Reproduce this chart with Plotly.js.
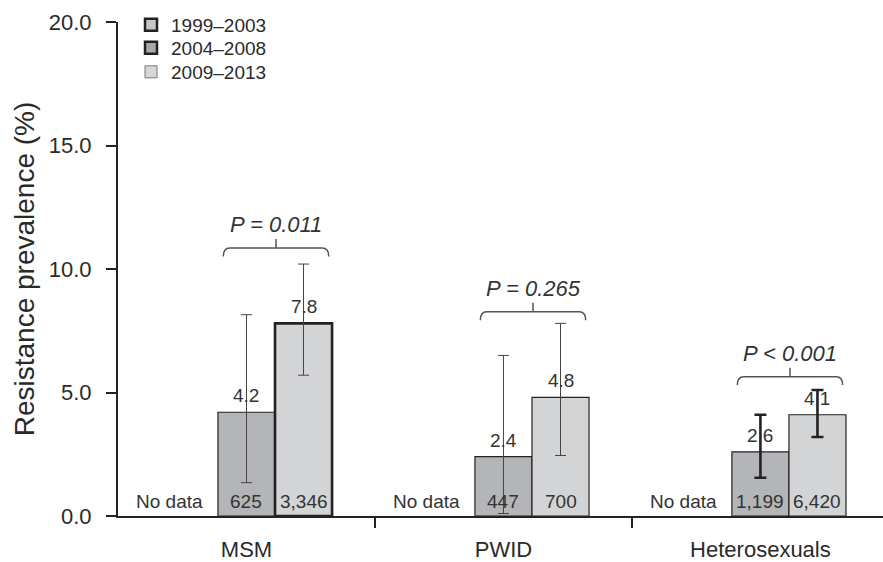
<!DOCTYPE html>
<html><head><meta charset="utf-8">
<script src="https://cdn.plot.ly/plotly-3.0.1.min.js"></script>
<style>html,body{margin:0;padding:0;background:#fff}#chart{width:883px;height:562px}</style>
</head><body><div id="chart"></div>
<script>
// ---- data ----
const categories = ['MSM', 'PWID', 'Heterosexuals'];
const periods = ['1999–2003', '2004–2008', '2009–2013'];
const prev1999 = [null, null, null];
const prev2004 = [4.2, 2.4, 2.6];
const prev2009 = [7.8, 4.8, 4.1];
const ciLow2004 = [1.35, 0.1, 1.55];
const ciHigh2004 = [8.15, 6.5, 4.1];
const ciLow2009 = [5.7, 2.45, 3.2];
const ciHigh2009 = [10.2, 7.8, 5.1];
const n2004 = ['625', '447', '1,199'];
const n2009 = ['3,346', '700', '6,420'];
const noDataLabel = 'No data';
const pLabels = ['P = 0.011', 'P = 0.265', 'P < 0.001'];
const bracketY = [10.85, 8.27, 5.64];
const yTickVals = [0, 5, 10, 15, 20];

// ---- style ----
const FONT = 'Liberation Sans, Arial, Helvetica, sans-serif';
const TXT = '#2a2a2a';
const BW = 0.222;
const offs = [-BW, 0, BW];
const fills = ['#c5c5c7', '#b4b5b8', '#d3d4d6'];
const legendFills = ['#c6c6c8', '#a9a9ac', '#d7d7d9'];
const legendLineW = [2.5, 2.5, 1];
const legendLineC = ['#222', '#222', '#777'];
const legendIds = ['legend', 'legend2', 'legend3'];
const legendYs = [0.9939, 0.9474, 0.8988];
const idx = categories.map((_, i) => i);
const errThick = [1, 1, 2.6];
const errColor = ['#444', '#444', '#222'];
const errWidth = [5.5, 5.5, 6];

const traces = [];
const series = [
  {vals: prev2004, lo: ciLow2004, hi: ciHigh2004, n: n2004, k: 1, lw: [1.2, 1.2, 1.2]},
  {vals: prev2009, lo: ciLow2009, hi: ciHigh2009, n: n2009, k: 2, lw: [2.6, 1.2, 1.2]}
];
// 1999-2003 (no data)
traces.push({type: 'bar', x: idx.map(i => i + offs[0]), y: prev1999, width: BW,
  marker: {color: fills[0], line: {color: '#222', width: 1.2}}, showlegend: false, hoverinfo: 'skip'});
series.forEach(s => {
  traces.push({type: 'bar', x: idx.map(i => i + offs[s.k]), y: s.vals, width: BW,
    marker: {color: fills[s.k], line: {color: '#222', width: s.lw}}, showlegend: false, hoverinfo: 'skip'});
});
series.forEach(s => {
  idx.forEach(i => {
    traces.push({type: 'scatter', mode: 'markers', x: [i + offs[s.k]], y: [s.vals[i]],
      marker: {size: 1, opacity: 0}, showlegend: false, hoverinfo: 'skip',
      error_y: {type: 'data', symmetric: false, array: [s.hi[i] - s.vals[i]], arrayminus: [s.vals[i] - s.lo[i]],
        thickness: errThick[i], width: errWidth[i], color: errColor[i]}});
  });
});
// legend entries
periods.forEach((p, k) => {
  traces.push({type: 'bar', x: [null], y: [null], name: p, legend: legendIds[k],
    marker: {color: legendFills[k], line: {color: legendLineC[k], width: legendLineW[k]}}, hoverinfo: 'skip'});
});

const annotations = [];
series.forEach(s => {
  idx.forEach(i => {
    annotations.push({x: i + offs[s.k], y: s.vals[i], text: s.vals[i].toFixed(1), showarrow: false,
      yanchor: 'bottom', yshift: 4, font: {family: FONT, size: 19, color: '#333'}});
    annotations.push({x: i + offs[s.k], y: 0, text: s.n[i], showarrow: false,
      yanchor: 'bottom', yshift: 2, font: {family: FONT, size: 19, color: '#333'}});
  });
});
idx.forEach(i => {
  if (prev1999[i] === null) {
    annotations.push({x: i - 0.3, y: 0, text: noDataLabel, showarrow: false,
      yanchor: 'bottom', yshift: 2, font: {family: FONT, size: 19, color: '#333'}});
  }
});
const shapes = [];
idx.forEach(i => {
  const xl = i - 0.09, xr = i + 0.32, xm = (xl + xr) / 2;
  const yt = bracketY[i], ye = yt - 0.34, yk = yt + 0.36;
  const r = 0.025;
  shapes.push({type: 'path', xref: 'x', yref: 'y',
    path: `M${xl},${ye} Q${xl},${yt} ${xl + r},${yt} L${xr - r},${yt} Q${xr},${yt} ${xr},${ye} M${xm},${yt} L${xm},${yk}`,
    line: {color: '#555', width: 1.5}});
  annotations.push({x: xm, y: yt + 0.95, text: '<i>' + pLabels[i] + '</i>', showarrow: false,
    yanchor: 'middle', font: {family: FONT, size: 22, color: '#333'}});
});

const legendBase = {x: 0.017, xanchor: 'left', yanchor: 'middle', bgcolor: 'rgba(0,0,0,0)',
  font: {family: FONT, size: 19, color: TXT}};
const layout = {
  width: 883, height: 562,
  margin: {l: 118, r: 0, t: 22, b: 46},
  paper_bgcolor: '#fff', plot_bgcolor: '#fff',
  font: {family: FONT, color: TXT},
  barmode: 'overlay',
  showlegend: true,
  legend: Object.assign({}, legendBase, {y: legendYs[0]}),
  legend2: Object.assign({}, legendBase, {y: legendYs[1]}),
  legend3: Object.assign({}, legendBase, {y: legendYs[2]}),
  xaxis: {range: [-0.5, 2.477], tickmode: 'array', tickvals: idx, ticktext: categories,
    ticks: '', showline: true, linecolor: '#222', linewidth: 2, showgrid: false, zeroline: false,
    tickfont: {family: FONT, size: 22, color: TXT}, ticklabelstandoff: 13,
    minor: {tickmode: 'array', tickvals: [0.5, 1.5], ticks: 'outside', ticklen: 10, tickwidth: 2, tickcolor: '#222', showgrid: false}},
  yaxis: {range: [0, 20], tickmode: 'array', tickvals: yTickVals, tickformat: '.1f',
    ticks: 'outside', ticklen: 10, tickwidth: 2, tickcolor: '#222',
    showline: true, linecolor: '#222', linewidth: 2, showgrid: false, zeroline: false,
    tickfont: {family: FONT, size: 22, color: TXT}, ticklabelstandoff: 10,
    title: {text: 'Resistance prevalence (%)', font: {family: FONT, size: 28, color: TXT}, standoff: 6}},
  shapes: shapes,
  annotations: annotations
};
Plotly.newPlot('chart', traces, layout, {staticPlot: true, displayModeBar: false});
</script>
</body></html>
